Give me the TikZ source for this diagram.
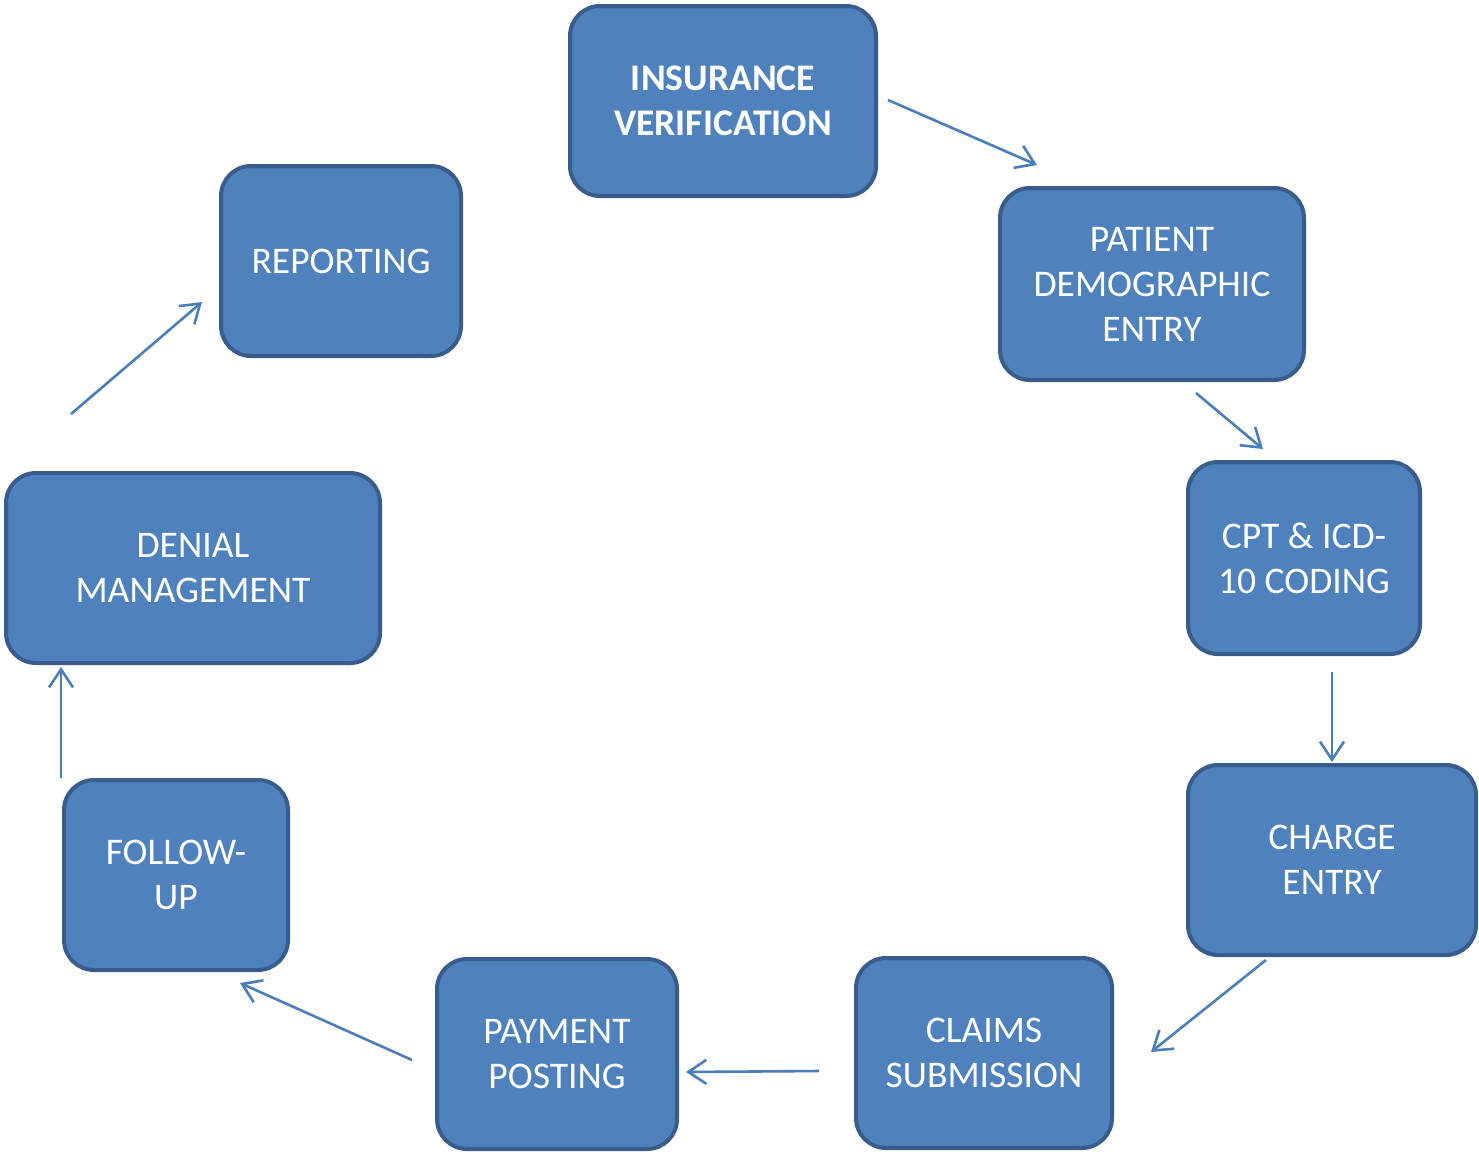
\documentclass[tikz,border=0pt]{standalone}
\usepackage{fontspec}
\setmainfont{Carlito}
\usetikzlibrary{arrows.meta}
\definecolor{boxfill}{HTML}{4F81BD}
\definecolor{boxline}{HTML}{385D8A}
\definecolor{arrline}{HTML}{4A7EBB}
\tikzset{
  every node/.style={font=\fontsize{18.8}{22.5}\selectfont,text=white},
  stepbox/.style={draw=boxline,line width=2pt,fill=boxfill,rounded corners=15pt,align=center,inner sep=2pt},
  arrow/.style={-{Straight Barb[length=9pt,width=12pt,line width=1.3pt]},line width=1.3pt,draw=arrline},
}
\begin{document}
\begin{tikzpicture}[x=0.5pt,y=-0.5pt]
\useasboundingbox (0,0) rectangle (1479,1153);

% process boxes
\node[stepbox,minimum width=153pt,minimum height=95pt] (ins) at (723,101) {\textbf{INSURANCE}\\\textbf{VERIFICATION}};
\node[stepbox,minimum width=152pt,minimum height=96pt] (pat) at (1152,284) {PATIENT\\DEMOGRAPHIC\\ENTRY};
\node[stepbox,minimum width=116pt,minimum height=96pt] (cpt) at (1304,558) {CPT \& ICD-\\10 CODING};
\node[stepbox,minimum width=144pt,minimum height=95pt] (chg) at (1332,860) {CHARGE\\ENTRY};
\node[stepbox,minimum width=128pt,minimum height=95pt] (clm) at (984,1053) {CLAIMS\\SUBMISSION};
\node[stepbox,minimum width=120pt,minimum height=95pt] (pay) at (557,1054) {PAYMENT\\POSTING};
\node[stepbox,minimum width=112pt,minimum height=95pt] (fol) at (176,875) {FOLLOW-\\UP};
\node[stepbox,minimum width=187pt,minimum height=95pt] (den) at (193,568) {DENIAL\\MANAGEMENT};
\node[stepbox,minimum width=120pt,minimum height=95pt] (rep) at (341,261) {REPORTING};

% arrow ends
\coordinate (a1) at (888,100);   \coordinate (b1) at (1037,165);
\coordinate (a2) at (1196,393);  \coordinate (b2) at (1263,449);
\coordinate (a3) at (1332,672);  \coordinate (b3) at (1332,762);
\coordinate (a4) at (1266,960);  \coordinate (b4) at (1151,1052);
\coordinate (a5) at (819,1071);  \coordinate (b5) at (686,1072);
\coordinate (a6) at (412,1060);  \coordinate (b6) at (240,983);
\coordinate (a7) at (61,778);    \coordinate (b7) at (61,667);
\coordinate (a8) at (71,414);    \coordinate (b8) at (202,302);

\foreach \i in {1,...,8}
  \draw[arrow] (a\i) -- (b\i);

\end{tikzpicture}
\end{document}
